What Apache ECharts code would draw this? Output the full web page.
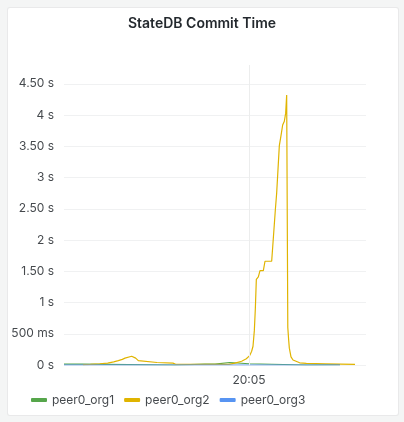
<!DOCTYPE html>
<html>
<head>
<meta charset="utf-8">
<script src="https://cdn.jsdelivr.net/npm/echarts@6/dist/echarts.min.js"></script>
<style>
  html, body { margin: 0; padding: 0; background: #f4f5f5; }
  #card { position: absolute; left: 7px; top: 7px; width: 390px; height: 407px;
          background: #ffffff; border: 1px solid rgba(36,41,46,0.10); border-radius: 3px; }
  #chart { position: absolute; left: 0; top: 0; width: 404px; height: 422px; }
</style>
</head>
<body>
<div id="card"></div>
<div id="chart"></div>
<script>
// Seconds after 20:00:00
const seriesNames = ['peer0_org1', 'peer0_org2', 'peer0_org3'];
const seriesColors = ['#56A64B', '#E0B400', '#5794F2'];

const org1Times  = [22.5, 50, 52, 190, 192, 234, 236, 238, 249, 250.5, 271, 272.5, 300, 302, 386, 388, 436.5];
const org1Values = [0.015, 0.015, 0, 0, 0.015, 0.015, 0.045, 0.015, 0.015, 0.04, 0.04, 0.02, 0.02, 0, 0, 0.006, 0.006];

const org2Times  = [51, 62, 76, 88, 97, 104, 110, 114, 117, 124, 126, 130, 134, 137, 162, 164, 186, 190, 270, 279,
                    289, 296, 301, 304, 306, 308, 309.5, 311, 314, 316.5, 321.5, 324, 334, 335.5, 336.5, 339.5, 341.5,
                    345.5, 348, 350.5, 353, 355, 356.5, 357.5, 358.2, 359.5, 360.5, 363, 366, 369, 376, 386, 415, 437, 459];
const org2Values = [0.005, 0.01, 0.02, 0.03, 0.05, 0.07, 0.09, 0.11, 0.13, 0.14, 0.15, 0.11, 0.07, 0.045, 0.04, 0.03, 0.03, 0.012, 0.01, 0.03,
                    0.06, 0.1, 0.15, 0.22, 0.3, 0.55, 0.9, 1.37, 1.41, 1.51, 1.51, 1.66, 1.66, 1.88, 1.9, 2.48, 2.75,
                    3.51, 3.67, 3.84, 3.9, 4.03, 4.32, 4.32, 0.6, 0.4, 0.27, 0.13, 0.08, 0.05, 0.035, 0.025, 0.02, 0.015, 0.01];

const org3Times  = [22.5, 100, 200, 300, 400, 436.5];
const org3Values = [0, 0, 0, 0, 0, 0];

const xRange = [22.5, 475.5];          // visible time window, seconds after 20:00:00
const xTickTimes = [300];              // 20:05
const xTickLabels = ['20:05'];
const yTickLabels = ['0 s', '500 ms', '1 s', '1.50 s', '2 s', '2.50 s', '3 s', '3.50 s', '4 s', '4.50 s'];
const yMax = 4.8;
const yInterval = 0.5;

const base = new Date(2023, 0, 1, 20, 0, 0).getTime();
const toMs = s => base + s * 1000;
const pairs = (ts, vs) => ts.map((t, i) => [toMs(t), vs[i]]);

const textColor = 'rgba(36,41,46,0.85)';
const font = 'Inter, "Noto Sans", sans-serif';

const splitColors = yTickLabels.map(() => '#f0f1f2').concat(['rgba(0,0,0,0)']);

const chart = echarts.init(document.getElementById('chart'), null, { renderer: 'canvas' });
const lineSeries = (name, data, idx) => ({
  name: name,
  type: 'line',
  data: data,
  showSymbol: false,
  symbol: 'none',
  lineStyle: { width: 1.2, color: seriesColors[idx] },
  itemStyle: { color: seriesColors[idx] },
  emphasis: { disabled: true },
  animation: false
});

const s1 = lineSeries(seriesNames[0], pairs(org1Times, org1Values), 0);
s1.markLine = {
  silent: true,
  symbol: ['none', 'none'],
  animation: false,
  lineStyle: { type: 'solid', width: 1, color: '#eceded' },
  label: {
    show: true, position: 'start', distance: 9,
    color: textColor, fontFamily: font, fontSize: 12,
    formatter: p => xTickLabels[xTickTimes.indexOf((p.value - base) / 1000)] || ''
  },
  data: xTickTimes.map(t => ({ xAxis: toMs(t) }))
};

chart.setOption({
  animation: false,
  textStyle: { fontFamily: font },
  title: {
    text: 'StateDB Commit Time',
    left: 'center', top: 17, padding: 0,
    textStyle: { fontFamily: font, fontSize: 14, fontWeight: 600, color: '#24292e' }
  },
  legend: {
    left: 31, top: 394, padding: 0,
    icon: 'roundRect', itemWidth: 16, itemHeight: 4, itemGap: 10,
    textStyle: { fontFamily: font, fontSize: 12, color: textColor },
    data: seriesNames
  },
  grid: { left: 64, right: 38, top: 65, bottom: 57, containLabel: false },
  xAxis: {
    type: 'time',
    min: toMs(xRange[0]), max: toMs(xRange[1]),
    axisLine: { show: false }, axisTick: { show: false },
    axisLabel: { show: false }, splitLine: { show: false }
  },
  yAxis: {
    type: 'value',
    min: 0, max: yMax, interval: yInterval,
    axisLine: { show: false }, axisTick: { show: false },
    axisLabel: {
      margin: 10, color: textColor, fontFamily: font, fontSize: 12,
      showMaxLabel: false,
      formatter: v => {
        const i = Math.round(v / yInterval);
        return Math.abs(i * yInterval - v) < 1e-9 ? (yTickLabels[i] || '') : '';
      }
    },
    splitLine: { show: true, lineStyle: { color: splitColors, width: 1 } }
  },
  series: [
    s1,
    lineSeries(seriesNames[1], pairs(org2Times, org2Values), 1),
    lineSeries(seriesNames[2], pairs(org3Times, org3Values), 2)
  ]
});
</script>
</body>
</html>
